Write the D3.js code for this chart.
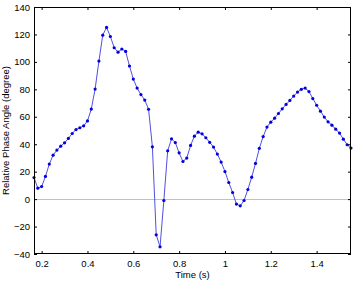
<!DOCTYPE html>
<html>
<head>
<meta charset="utf-8">
<script src="https://cdn.jsdelivr.net/npm/d3@7"></script>
<style>
body { margin: 0; background: #fff; }
text { font-family: "Liberation Sans", Arial, sans-serif; }
</style>
</head>
<body>
<script>
// sample index -> time = (10 + i) / 60 s
var phase = [15.7, 8.0, 9.2, 16.5, 25.5, 32, 35.7, 38.6, 41, 44.2,
    47.8, 50.7, 52, 53.4, 57, 65.6, 80.2, 100.6, 119.5, 125.1,
    118.5, 110.3, 107.1, 109.4, 107.6, 97, 87.5, 80.9, 76.2, 72.2,
    65.5, 38.1, -26, -34.8, -1, 35.2, 43.9, 41.2, 33.7, 27.4,
    29.9, 39.1, 45.9, 48.8, 47.6, 44.7, 41.4, 37.9, 32.8, 27,
    20.1, 12.1, 4.8, -3.6, -4.9, -1, 7, 16, 26, 37,
    45.6, 52.5, 56.1, 59, 62.4, 65.8, 69, 71.9, 75.1, 78,
    80, 80.9, 78.4, 73.3, 68.4, 64.1, 59.8, 56.3, 53.9, 51,
    48.1, 43.7, 39.6, 37.2];
var times = phase.map(function(d, i) { return (10 + i) / 60; });
var xTicks = [0.2, 0.4, 0.6, 0.8, 1, 1.2, 1.4];
var yTicks = [-40, -20, 0, 20, 40, 60, 80, 100, 120, 140];

var width = 355, height = 284;
var mLeft = 34, mRight = 351, mTop = 7, mBottom = 254;

var svg = d3.select("body").append("svg")
    .attr("width", width)
    .attr("height", height);

var x = d3.scaleLinear()
    .domain([times[0], times[times.length - 1]])
    .range([mLeft, mRight]);
var y = d3.scaleLinear()
    .domain([-40, 140])
    .range([mBottom, mTop]);

// zero line
svg.append("line")
    .attr("x1", mLeft).attr("x2", mRight)
    .attr("y1", Math.round(y(0)) + 0.5).attr("y2", Math.round(y(0)) + 0.5)
    .attr("stroke", "#c0c0c0")
    .attr("stroke-width", 1);

var data = times.map(function(t, i) { return {t: t, v: phase[i]}; });

svg.append("path")
    .datum(data)
    .attr("fill", "none")
    .attr("stroke", "#5050e0")
    .attr("stroke-width", 1)
    .attr("d", d3.line()
        .x(function(d) { return x(d.t); })
        .y(function(d) { return y(d.v); }));

svg.selectAll(".pt")
    .data(data)
    .enter().append("circle")
    .attr("class", "pt")
    .attr("cx", function(d) { return x(d.t); })
    .attr("cy", function(d) { return y(d.v); })
    .attr("r", 1.6)
    .attr("fill", "#0000e0");

// axes: ticks point inward on all four sides
var tick = 3;
svg.append("g")
    .attr("transform", "translate(0," + mBottom + ")")
    .call(d3.axisBottom(x).tickValues(xTicks).tickSizeInner(-tick).tickSizeOuter(0)
        .tickPadding(6).tickFormat(d3.format("")));
svg.append("g")
    .attr("transform", "translate(0," + mTop + ")")
    .call(d3.axisTop(x).tickValues(xTicks).tickSizeInner(-tick).tickSizeOuter(0).tickFormat(""));
svg.append("g")
    .attr("transform", "translate(" + mLeft + ",0)")
    .call(d3.axisLeft(y).tickValues(yTicks).tickSizeInner(-tick).tickSizeOuter(0).tickPadding(4));
svg.append("g")
    .attr("transform", "translate(" + mRight + ",0)")
    .call(d3.axisRight(y).tickValues(yTicks).tickSizeInner(-tick).tickSizeOuter(0).tickFormat(""));

svg.selectAll(".domain").remove();
svg.selectAll(".tick line").attr("stroke", "#000");
svg.selectAll(".tick text")
    .attr("fill", "#000")
    .style("font-size", "9.5px")
    .style("font-family", "'Liberation Sans', Arial, sans-serif");

svg.append("rect")
    .attr("x", mLeft + 0.5).attr("y", mTop + 0.5)
    .attr("width", mRight - mLeft - 1).attr("height", mBottom - mTop - 1)
    .attr("fill", "none")
    .attr("stroke", "#000")
    .attr("stroke-width", 1);

svg.append("text")
    .attr("x", (mLeft + mRight) / 2)
    .attr("y", 278)
    .attr("text-anchor", "middle")
    .style("font-size", "9.5px")
    .text("Time (s)");

svg.append("text")
    .attr("transform", "translate(9," + ((mTop + mBottom) / 2) + ") rotate(-90)")
    .attr("text-anchor", "middle")
    .style("font-size", "9.5px")
    .text("Relative Phase Angle (degree)");
</script>
</body>
</html>
